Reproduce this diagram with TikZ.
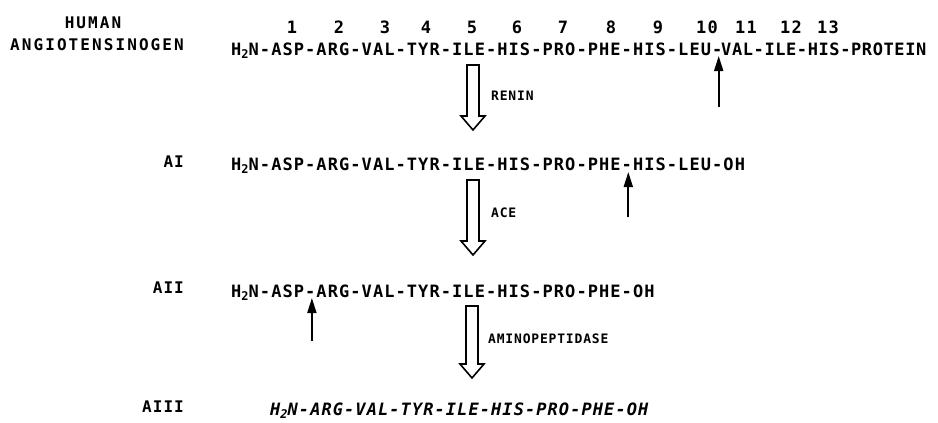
\documentclass[tikz,border=0pt]{standalone}
\usepackage{fontspec}
\newfontfamily\seqfont{DejaVu Sans Mono}[LetterSpace=6.3]
\newfontfamily\tailfont{DejaVu Sans Mono}[LetterSpace=3.5]
\newfontfamily\namefont{DejaVu Sans Mono}[LetterSpace=13]
\usetikzlibrary{arrows.meta, calc}
\newcommand{\htwon}{H\raisebox{-3.5pt}{\fontsize{12}{12}\selectfont 2}N}

\begin{document}
\begin{tikzpicture}[x=1pt, y=-1pt]
			\tikzstyle{seq}=[
			anchor=base west,
			inner sep=0pt,
			font=\fontsize{17}{19}\seqfont\bfseries]
			\tikzstyle{num}=[
			anchor=base,
			inner sep=0pt,
			font=\fontsize{17}{19}\seqfont\bfseries]
			\tikzstyle{title}=[
			anchor=base,
			inner sep=0pt,
			font=\fontsize{16}{18}\namefont\bfseries]
			\tikzstyle{rowlabel}=[
			anchor=base east,
			inner sep=0pt,
			font=\fontsize{16}{18}\seqfont\bfseries]
			\tikzstyle{enzyme}=[
			anchor=base west,
			inner sep=0pt,
			font=\fontsize{13}{15}\seqfont\bfseries]
			\tikzstyle{cut}=[
			line width=1.8pt,
			-{Triangle[length=15pt, width=9pt]}]
			\tikzstyle{hollow}=[
			line width=1.6pt,
			line join=miter,
			to path={let \p1=(\tikztostart), \p2=(\tikztotarget) in
				(\x1-6pt,\y1) -- (\x1-6pt,\y2+14pt) -- (\x1-12pt,\y2+14pt) -- (\x1,\y2)
				-- (\x1+12pt,\y2+14pt) -- (\x1+6pt,\y2+14pt) -- (\x1+6pt,\y1) -- cycle}]
			\def\p{11.3}
			\useasboundingbox (0,0) rectangle (938,423);
			%
			\node[title] (human) at (93,28) {HUMAN};
			\node[title] (ango) at (97,50) {ANGIOTENSINOGEN};
			\foreach \k/\x in {1/292, 2/339, 3/385, 4/426, 5/472, 6/517, 7/563, 8/611, 9/658, 10/707, 11/746, 12/791, 13/828}
				\node[num] (N\k) at (\x,33) {\k};
			\node[seq] (S0) at (231,55) {\htwon-ASP-ARG-VAL-TYR-ILE-HIS-PRO-PHE-HIS-LEU-};
			\node[seq, font=\fontsize{17}{19}\tailfont\bfseries] (S0b) at (721,55) {VAL-ILE-HIS-PROTEIN};
			%
			\node[rowlabel] (L1) at (184,167) {AI};
			\node[seq] (S1) at (231,170) {\htwon-ASP-ARG-VAL-TYR-ILE-HIS-PRO-PHE-HIS-LEU-OH};
			\node[rowlabel] (L2) at (184,293) {AII};
			\node[seq] (S2) at (231,297) {\htwon-ASP-ARG-VAL-TYR-ILE-HIS-PRO-PHE-OH};
			\node[rowlabel] (L3) at (184,412) {AIII};
			\node[seq, font=\fontsize{17}{19}\seqfont\bfseries\itshape] (S3) at (270,415) {\htwon-ARG-VAL-TYR-ILE-HIS-PRO-PHE-OH};
			%
			\node[enzyme] (renin) at (491,100) {RENIN};
			\node[enzyme] (ace) at (491,217) {ACE};
			\node[enzyme] (amino) at (488,343) {AMINOPEPTIDASE};
			%
			\coordinate (R0) at (473,65);
			\coordinate (R1) at (473,130);
			\coordinate (C0) at (473,180);
			\coordinate (C1) at (473,255);
			\coordinate (M0) at (472,306);
			\coordinate (M1) at (472,378);
			\draw[hollow] (R0) to (R1);
			\draw[hollow] (C0) to (C1);
			\draw[hollow] (M0) to (M1);
			%
			\coordinate (cut0) at ({231+43*\p+1.8},107);
			\coordinate (tip0) at ({231+43*\p+1.8},56);
			\coordinate (cut1) at ({231+35*\p+1.8},217);
			\coordinate (tip1) at ({231+35*\p+1.8},172);
			\coordinate (cut2) at ({231+7*\p+1.8},341);
			\coordinate (tip2) at ({231+7*\p+1.8},298);
			\draw[cut] (cut0) -- (tip0);
			\draw[cut] (cut1) -- (tip1);
			\draw[cut] (cut2) -- (tip2);
		\end{tikzpicture}
\end{document}
